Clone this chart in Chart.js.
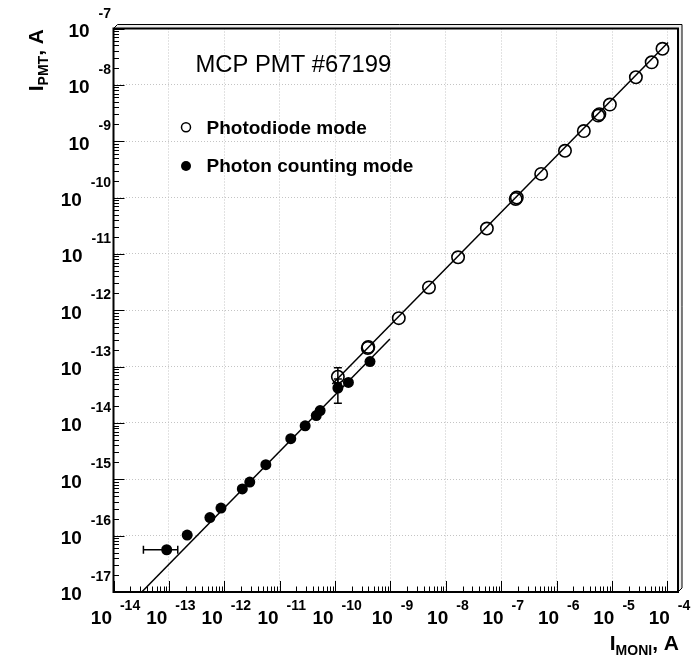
<!DOCTYPE html>
<html><head><meta charset="utf-8">
<script src="https://cdn.jsdelivr.net/npm/chart.js@4.4.1/dist/chart.umd.min.js"></script>
<style>html,body{margin:0;padding:0;background:#fff;}#wrap{width:695px;height:658px;position:relative;}</style>
</head><body><div id="wrap"><canvas id="c" width="695" height="658"></canvas></div>
<script>
// ---- data (log10 of currents) ----
const xDecades = [-14,-13,-12,-11,-10,-9,-8,-7,-6,-5,-4];
const yDecades = [-17,-16,-15,-14,-13,-12,-11,-10,-9,-8,-7];
const xMinLog = -14, xMaxLog = -3.81;
const yMinLog = -17, yMaxLog = -7;

// Photodiode mode (open circles)
const pdX = [-9.95,-9.40,-9.41,-8.85,-8.305,-7.78,-7.26,-6.74,-6.72,-6.28,-5.85,-5.51,-5.25,-5.23,-5.04,-4.57,-4.285,-4.09];
const pdY = [-13.18,-12.65,-12.67,-12.14,-11.595,-11.06,-10.55,-10.025,-10.0,-9.58,-9.17,-8.82,-8.545,-8.52,-8.35,-7.865,-7.60,-7.36];
const pdYErr = [[-13.30,-13.02]];          // error bar for first point
// Photon counting mode (filled circles)
const pcX = [-13.04,-12.67,-12.26,-12.06,-11.675,-11.54,-11.25,-10.80,-10.54,-10.34,-10.27,-9.95,-9.76,-9.37];
const pcY = [-16.25,-15.99,-15.68,-15.51,-15.17,-15.05,-14.74,-14.28,-14.05,-13.87,-13.78,-13.38,-13.28,-12.91];
const pcXErr0 = [-13.46,-12.84];           // horizontal error bar, point 0
const pcYErr11 = [-13.65,-13.22];          // vertical error bar, point 11
// fit lines
const fitPcX = [-13.49,-9.01], fitPcY = [-17.0,-12.51];
const fitPdX = [-10.05,-3.99], fitPdY = [-13.31,-7.25];

const P = v => Math.pow(10, v);
const pts = (xs, ys) => xs.map((x,i)=>({x:P(x), y:P(ys[i])}));

const FONT = '"Liberation Sans", Arial, Helvetica, sans-serif';

const decor = {
  id: 'decor',
  afterDatasetsDraw(chart){
    const ctx = chart.ctx, xs = chart.scales.x, ys = chart.scales.y;
    ctx.save();
    ctx.strokeStyle = '#000'; ctx.lineWidth = 1.5;
    const cap = 4;
    {
      const py = ys.getPixelForValue(P(pcY[0]));
      const a = xs.getPixelForValue(P(pcXErr0[0])), b = xs.getPixelForValue(P(pcXErr0[1]));
      ctx.beginPath(); ctx.moveTo(a,py); ctx.lineTo(b,py);
      ctx.moveTo(a,py-cap); ctx.lineTo(a,py+cap); ctx.moveTo(b,py-cap); ctx.lineTo(b,py+cap); ctx.stroke();
    }
    const vbar = (xl, lo, hi) => {
      const px = xs.getPixelForValue(P(xl));
      const a = ys.getPixelForValue(P(lo)), b = ys.getPixelForValue(P(hi));
      ctx.beginPath(); ctx.moveTo(px,a); ctx.lineTo(px,b);
      ctx.moveTo(px-cap,a); ctx.lineTo(px+cap,a); ctx.moveTo(px-cap,b); ctx.lineTo(px+cap,b); ctx.stroke();
    };
    vbar(pdX[0], pdYErr[0][0], pdYErr[0][1]);
    vbar(pcX[11], pcYErr11[0], pcYErr11[1]);
    ctx.restore();
  },
  afterDraw(chart){
    const ctx = chart.ctx, xs = chart.scales.x, ys = chart.scales.y, ca = chart.chartArea;
    const L = ca.left, R = ca.right, T = ca.top, B = ca.bottom;
    ctx.save();
    ctx.fillStyle = '#ececec'; ctx.strokeStyle = '#000'; ctx.lineWidth = 1;
    ctx.beginPath(); ctx.moveTo(L,T); ctx.lineTo(L+4,T-4); ctx.lineTo(R+4,T-4); ctx.lineTo(R+4,B-4); ctx.lineTo(R,B); ctx.lineTo(R,T); ctx.closePath();
    ctx.fill(); ctx.stroke();
    ctx.lineWidth = 2; ctx.strokeRect(L,T,R-L,B-T);
    ctx.lineWidth = 1;
    ctx.beginPath();
    for (let k=-17;k<=-7;k++) for (let m=1;m<=9;m++){
      const v = m*Math.pow(10,k);
      if (Math.log10(v) > yMaxLog+1e-9) continue;
      const py = Math.round(ys.getPixelForValue(v))+0.5;
      const len = m===1 ? 11 : 5.5;
      ctx.moveTo(L,py); ctx.lineTo(L+len,py);
    }
    for (let k=-14;k<=-4;k++) for (let m=1;m<=9;m++){
      const v = m*Math.pow(10,k);
      if (Math.log10(v) > xMaxLog) continue;
      const px = Math.round(xs.getPixelForValue(v))+0.5;
      const len = m===1 ? 11 : 5.5;
      ctx.moveTo(px,B); ctx.lineTo(px,B-len);
    }
    ctx.stroke();
    ctx.fillStyle = '#000';
    ctx.textBaseline = 'alphabetic';
    const fBig = 'bold 19px '+FONT, fSup = 'bold 14px '+FONT;
    yDecades.forEach(d=>{
      const py = ys.getPixelForValue(P(d));
      const e = String(d);
      ctx.font = fSup; const wE = ctx.measureText(e).width;
      const eL = 111 - wE;
      ctx.textAlign = 'left'; ctx.fillText(e, eL, py - 11);
      ctx.font = fBig; ctx.textAlign = 'right'; ctx.fillText('10', eL - 9, py + 8.3);
    });
    xDecades.forEach(d=>{
      const px = xs.getPixelForValue(P(d));
      const e = String(d);
      ctx.font = fSup; const wE = ctx.measureText(e).width;
      ctx.font = fBig; const w10 = ctx.measureText('10').width;
      const gap = 8, tot = w10 + gap + wE;
      const left = px + 2 - tot/2;
      ctx.textAlign = 'left';
      ctx.fillText('10', left, 624.3);
      ctx.font = fSup; ctx.fillText(e, left + w10 + gap, 609.5);
    });
    const fT = 'bold 21px '+FONT, fS = 'bold 14px '+FONT;
    const pieces = (sub) => [[ 'I', fT, 0 ], [ sub, fS, 5 ], [ ', A', fT, 0 ]];
    const widthOf = arr => arr.reduce((s,p)=>{ctx.font=p[1]; return s+ctx.measureText(p[0]).width;},0);
    const drawPieces = (arr, x0, y0) => {
      let x = x0; ctx.textAlign='left';
      arr.forEach(p=>{ ctx.font=p[1]; ctx.fillText(p[0], x, y0+p[2]); x += ctx.measureText(p[0]).width; });
    };
    const xt = pieces('MONI');
    drawPieces(xt, 679 - widthOf(xt), 650);
    const yt = pieces('PMT');
    ctx.save(); ctx.translate(43, 29 + widthOf(yt)); ctx.rotate(-Math.PI/2);
    drawPieces(yt, 0, 0); ctx.restore();
    ctx.font = '23.8px '+FONT; ctx.textAlign='left';
    ctx.fillText('MCP PMT #67199', 195.5, 71.8);
    ctx.font = 'bold 19px '+FONT;
    ctx.fillText('Photodiode mode', 206.5, 133.5);
    ctx.fillText('Photon counting mode', 206.5, 171.8);
    ctx.lineWidth = 1.5;
    ctx.beginPath(); ctx.arc(186, 127.3, 4.5, 0, Math.PI*2); ctx.stroke();
    ctx.beginPath(); ctx.arc(186, 166, 5, 0, Math.PI*2); ctx.fill();
    ctx.restore();
  }
};

const gridCfg = { color: '#c4c4c4', lineWidth: 1, drawTicks: false };
const borderCfg = { display: false, dash: [1,2] };

new Chart(document.getElementById('c'), {
  type: 'scatter',
  data: {
    datasets: [
      { label: 'Photon counting mode', data: pts(pcX, pcY), pointRadius: 5.5, pointHoverRadius: 5.5,
        backgroundColor: '#000', borderColor: '#000', borderWidth: 0 },
      { label: 'Photodiode mode', data: pts(pdX, pdY), pointRadius: 6.2, pointHoverRadius: 6.2,
        backgroundColor: 'rgba(0,0,0,0)', borderColor: '#000', borderWidth: 1.6 },
      { label: 'fit pc', data: pts(fitPcX, fitPcY), showLine: true, pointRadius: 0, borderColor: '#000', borderWidth: 1.5, fill: false },
      { label: 'fit pd', data: pts(fitPdX, fitPdY), showLine: true, pointRadius: 0, borderColor: '#000', borderWidth: 1.5, fill: false }
    ]
  },
  options: {
    responsive: false, animation: false, devicePixelRatio: 1,
    layout: { padding: { left: 113.5, right: 17, top: 28.5, bottom: 66 } },
    plugins: { legend: { display: false }, tooltip: { enabled: false } },
    scales: {
      x: { type: 'logarithmic', min: P(xMinLog), max: P(xMaxLog),
           ticks: { display: false }, grid: gridCfg, border: borderCfg, title: { display: false },
           afterBuildTicks: s => { s.ticks = xDecades.map(d => ({ value: P(d) })); } },
      y: { type: 'logarithmic', min: P(yMinLog), max: P(yMaxLog),
           ticks: { display: false }, grid: gridCfg, border: borderCfg, title: { display: false },
           afterBuildTicks: s => { s.ticks = yDecades.map(d => ({ value: P(d) })); } }
    }
  },
  plugins: [decor]
});
</script>
</body></html>
